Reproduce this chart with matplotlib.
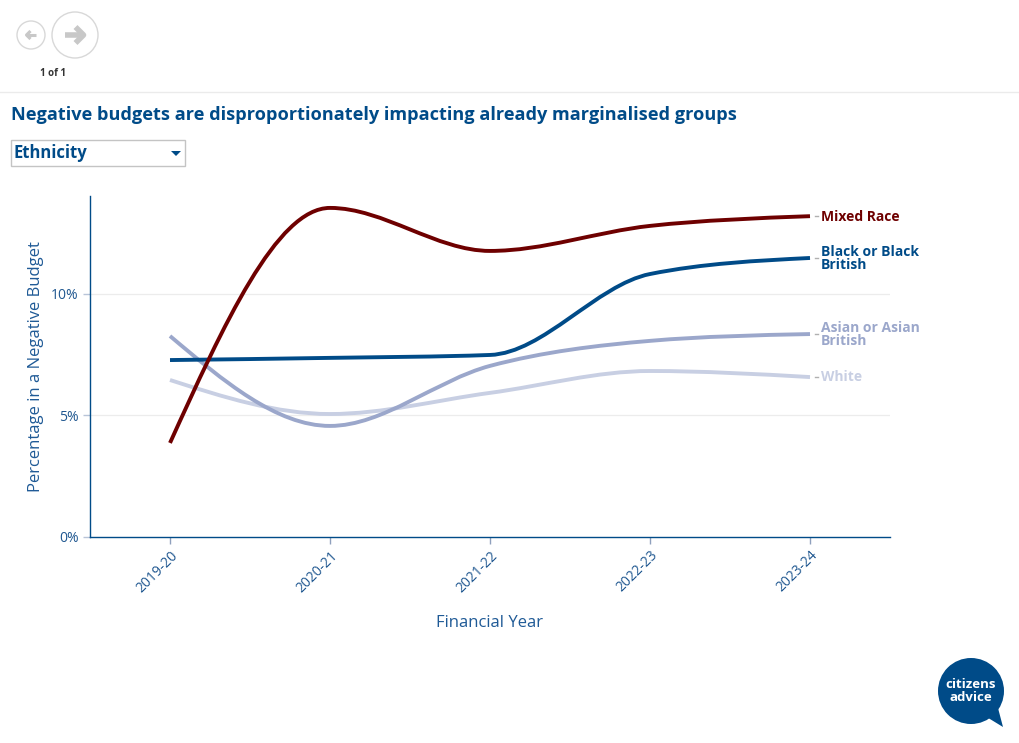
import numpy as np
import matplotlib
matplotlib.use("Agg")
import matplotlib.pyplot as plt
from matplotlib.path import Path
from matplotlib.patches import PathPatch, Circle, Polygon, Rectangle

plt.rcParams['font.family'] = ['Open Sans', 'DejaVu Sans']

# ---------------- data ----------------
years = ['2019-20', '2020-21', '2021-22', '2022-23', '2023-24']
mixed_race = [3.87, 13.54, 11.77, 12.80, 13.20]
black_british = [7.28, 7.37, 7.49, 10.82, 11.48]
asian_british = [8.27, 4.57, 7.04, 8.07, 8.35]
white = [6.46, 5.06, 5.93, 6.83, 6.58]
series_labels = ['Mixed Race', 'Black or Black\nBritish', 'Asian or Asian\nBritish', 'White']
ytick_values = [0, 5, 10]
ytick_labels = ['0%', '5%', '10%']

colors = ['#6e0000', '#004b88', '#9ba7cb', '#c8cfe3']
NAVY = '#004b88'
TICK = '#1f5790'

W, H = 1020, 743
fig = plt.figure(figsize=(W / 100, H / 100), dpi=100)

# overlay axes in pixel units for page chrome
deco = fig.add_axes([0, 0, 1, 1], zorder=0)
deco.set_xlim(0, W)
deco.set_ylim(H, 0)
deco.axis('off')

ax = fig.add_axes([90 / W, 1 - 537 / H, 800 / W, (537 - 196) / H], zorder=1)
ax.patch.set_alpha(0)

x = np.arange(len(years), dtype=float)
ax.set_xlim(-0.5, len(years) - 0.5)
ax.set_ylim(0, 14.03)


def monotone_path(xs, ys):
    """d3.curveMonotoneX equivalent as cubic Bezier path."""
    xs = np.asarray(xs, float)
    ys = np.asarray(ys, float)
    n = len(xs)
    h = np.diff(xs)
    s = np.diff(ys) / h
    t = np.zeros(n)
    for i in range(1, n - 1):
        h0, h1 = h[i - 1], h[i]
        s0, s1 = s[i - 1], s[i]
        p = (s0 * h1 + s1 * h0) / (h0 + h1)
        t[i] = (np.sign(s0) + np.sign(s1)) * min(abs(s0), abs(s1), 0.5 * abs(p))
    t[0] = (3 * s[0] - t[1]) / 2
    t[-1] = (3 * s[-1] - t[-2]) / 2
    verts = [(xs[0], ys[0])]
    codes = [Path.MOVETO]
    for i in range(n - 1):
        dx = h[i] / 3
        verts += [(xs[i] + dx, ys[i] + dx * t[i]),
                  (xs[i + 1] - dx, ys[i + 1] - dx * t[i + 1]),
                  (xs[i + 1], ys[i + 1])]
        codes += [Path.CURVE4] * 3
    return Path(verts, codes)


all_series = [mixed_race, black_british, asian_british, white]
zorders = [6, 5, 4, 3]
for vals, col, lab, z in zip(all_series, colors, series_labels, zorders):
    ax.add_patch(PathPatch(monotone_path(x, vals), facecolor='none', edgecolor=col, lw=2.8,
                           capstyle='butt', joinstyle='round', zorder=z))
    # leader dash
    ax.plot([x[-1] + 0.03, x[-1] + 0.05], [vals[-1], vals[-1]],
            color='#b0b0b0', lw=1.0, zorder=2, clip_on=False)
    ax.annotate(lab, xy=(x[-1], vals[-1]), xytext=(8, -0.3), textcoords='offset points',
                ha='left', va='center', fontsize=10, fontweight='bold', color=col,
                linespacing=0.9, annotation_clip=False)

# grid
for yv in ytick_values[1:]:
    ax.axhline(yv, color='#ececec', lw=0.9, zorder=0)

ax.set_xticks(x)
ax.set_xticklabels(years, rotation=45, ha='right', rotation_mode='anchor',
                   fontsize=10, color=TICK)
ax.set_yticks(ytick_values)
ax.set_yticklabels(ytick_labels, fontsize=10, color=TICK)
ax.tick_params(axis='x', direction='out', length=5, width=1, color='#8fa0bd', pad=3)
ax.tick_params(axis='y', direction='out', length=5, width=1, color='#b8c4d8', pad=3)
for side in ['top', 'right']:
    ax.spines[side].set_visible(False)
for side in ['left', 'bottom']:
    ax.spines[side].set_color(NAVY)
    ax.spines[side].set_linewidth(1.0)

ax.set_xlabel('Financial Year', fontsize=12, color='#1f5a96', labelpad=14)
ax.set_ylabel('Percentage in a Negative Budget', fontsize=12, color='#1f5a96', labelpad=5)

# ---------------- page chrome ----------------
# nav buttons
deco.add_patch(Circle((31, 35), 14, facecolor='white', edgecolor='#d8d8d8', lw=1))
deco.add_patch(Circle((75, 35), 23, facecolor='white', edgecolor='#d8d8d8', lw=1))
deco.plot([26, 36], [35, 35], color='#c8c8c8', lw=2.2, solid_capstyle='butt')
deco.plot([30.5, 26.5, 30.5], [31, 35, 39], color='#c8c8c8', lw=2.2, solid_capstyle='butt')
deco.plot([65, 83], [35, 35], color='#c8c8c8', lw=4, solid_capstyle='butt')
deco.plot([75.5, 83.5, 75.5], [27, 35, 43], color='#c8c8c8', lw=4, solid_capstyle='butt')
deco.text(53, 73, '1 of 1', ha='center', va='center', fontsize=7, fontweight='bold', color='#333333')
deco.plot([0, W], [92, 92], color='#ebebeb', lw=1)

# title
deco.text(11, 115, 'Negative budgets are disproportionately impacting already marginalised groups',
          ha='left', va='center', fontsize=13.1, fontweight='bold', color=NAVY)

# dropdown
deco.add_patch(Rectangle((11.5, 140), 174, 26, facecolor='white', edgecolor='#c4c4c4', lw=1))
deco.text(14, 153, 'Ethnicity', ha='left', va='center', fontsize=12, fontweight='bold', color=NAVY)
deco.add_patch(Polygon([[171, 151], [181, 151], [176, 156]], closed=True, facecolor=NAVY, edgecolor='none'))

# logo
deco.add_patch(Circle((971, 691), 33, facecolor=NAVY, edgecolor='none'))
deco.add_patch(Polygon([[985, 716], [1003, 727], [998, 708]], closed=True, facecolor=NAVY, edgecolor='none'))
deco.text(971, 691, 'citizens\nadvice', ha='center', va='center', fontsize=9.5, fontweight='bold',
          color='white', linespacing=0.95)

fig.savefig('out.png', dpi=100)
